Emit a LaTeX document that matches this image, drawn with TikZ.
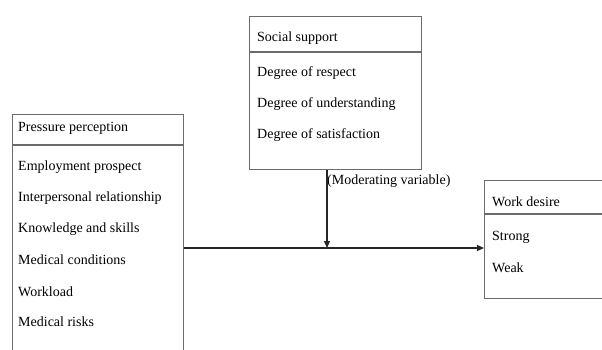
\documentclass[tikz,border=0pt]{standalone}
\usepackage{fontspec}
\setmainfont{Liberation Serif}
\usetikzlibrary{arrows.meta}
\definecolor{boxgray}{gray}{0.42}
\begin{document}
\begin{tikzpicture}[x=1pt,y=-1pt,
  box/.style={draw=boxgray, line width=1.3pt, inner sep=0pt, anchor=north west},
  hdr/.style={draw=boxgray, line width=1.3pt},
  lbl/.style={anchor=west, font=\fontsize{14}{16}\selectfont, inner sep=0pt},
  conn/.style={draw=black!85, line width=1.2pt, -{Triangle[length=7pt,width=6pt]}}]
\clip (0,0) rectangle (602,349);
% boxes
\node[box, minimum width=171pt, minimum height=260pt] (pp) at (12,114) {};
\draw[hdr] (pp.west |- 0,145) -- (pp.east |- 0,145);
\node[box, minimum width=172pt, minimum height=153pt] (ss) at (249,16) {};
\draw[hdr] (ss.west |- 0,52) -- (ss.east |- 0,52);
\node[box, minimum width=140pt, minimum height=118pt] (wd) at (484,180) {};
\draw[hdr] (wd.west |- 0,214) -- (wd.east |- 0,214);
% texts
\node[lbl] (pph) at (18,128) {Pressure perception};
\node[lbl] (pp1) at (18,167) {Employment prospect};
\node[lbl] (pp2) at (18,198) {Interpersonal relationship};
\node[lbl] (pp3) at (18,229) {Knowledge and skills};
\node[lbl] (pp4) at (18,260) {Medical conditions};
\node[lbl] (pp5) at (18,292) {Workload};
\node[lbl] (pp6) at (18,322) {Medical risks};
\node[lbl] (ssh) at (257,38) {Social support};
\node[lbl] (ss1) at (257,73) {Degree of respect};
\node[lbl] (ss2) at (257,104) {Degree of understanding};
\node[lbl] (ss3) at (257,135) {Degree of satisfaction};
\node[lbl] (wdh) at (492,202) {Work desire};
\node[lbl] (wd1) at (492,237) {Strong};
\node[lbl] (wd2) at (492,268) {Weak};
\node[lbl] (mod) at (327,181) {(Moderating variable)};
% connectors
\coordinate (j) at (327,248);
\draw[conn] (ss.south -| j) -- (j);
\draw[conn] (pp.east |- j) -- (wd.west |- j);
\end{tikzpicture}
\end{document}
